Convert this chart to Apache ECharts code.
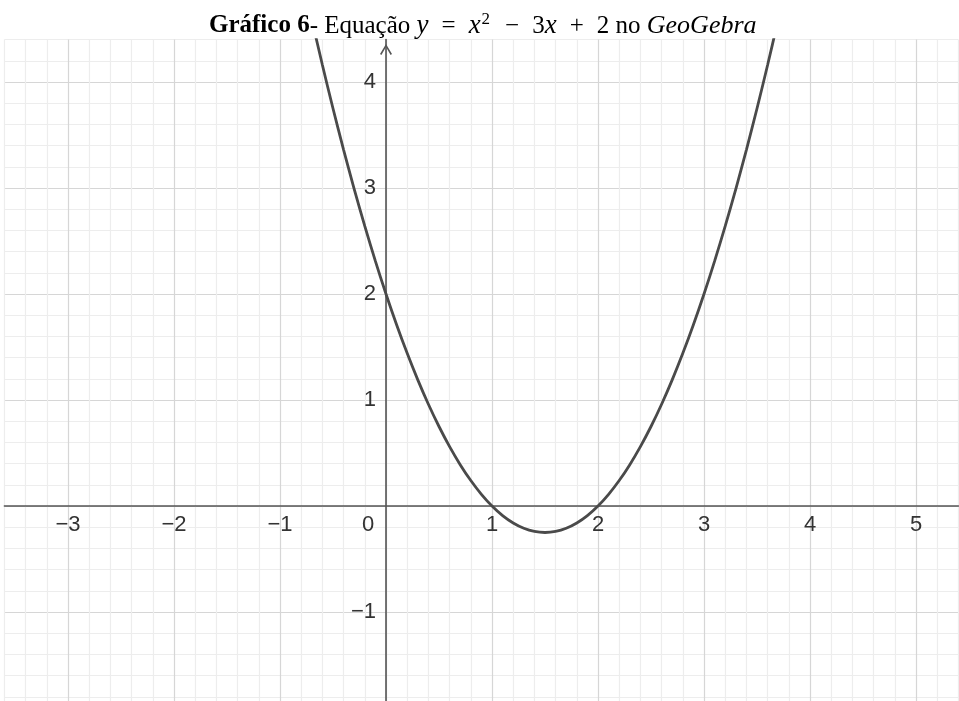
<!DOCTYPE html>
<html>
<head>
<meta charset="utf-8">
<script src="https://cdn.jsdelivr.net/npm/echarts@6/dist/echarts.min.js"></script>
<style>
html, body { margin: 0; padding: 0; background: #fff; }
#chart { width: 959px; height: 701px; }
</style>
</head>
<body>
<div id="chart"></div>
<script>
// pontos da parábola (y = x² − 3x + 2)
var curveX = [-0.7, -0.6, -0.5, -0.4, -0.3, -0.2, -0.1, 0, 0.1, 0.2, 0.3, 0.4, 0.5, 0.6, 0.7, 0.8, 0.9,
              1, 1.1, 1.2, 1.3, 1.4, 1.5, 1.6, 1.7, 1.8, 1.9, 2, 2.1, 2.2, 2.3, 2.4, 2.5, 2.6, 2.7, 2.8,
              2.9, 3, 3.1, 3.2, 3.3, 3.4, 3.5, 3.6, 3.7];
var curveY = [4.59, 4.16, 3.75, 3.36, 2.99, 2.64, 2.31, 2, 1.71, 1.44, 1.19, 0.96, 0.75, 0.56, 0.39, 0.24, 0.11,
              0, -0.09, -0.16, -0.21, -0.24, -0.25, -0.24, -0.21, -0.16, -0.09, 0, 0.11, 0.24, 0.39, 0.56, 0.75, 0.96, 1.19, 1.44,
              1.71, 2, 2.31, 2.64, 2.99, 3.36, 3.75, 4.16, 4.59];

// janela visível do GeoGebra
var xRange = [-3.6, 5.4];
var yRange = [-2, 4.4];
var gridStep = 0.2;
var unitPx = 106;

var labelFont = 'Liberation Sans';
var serif = 'Liberation Serif';

var curveData = [];
for (var i = 0; i < curveX.length; i++) {
    curveData.push([curveX[i], curveY[i]]);
}

function isWhole(v) {
    return Math.abs(v - Math.round(v)) < 1e-6;
}

function fmtNum(v) {
    var r = Math.round(v);
    return r < 0 ? '\u2212' + (-r) : String(r);
}

var minorColor = '#ededed';
var majorColor = '#d6d6d6';

var chart = echarts.init(document.getElementById('chart'), null, { renderer: 'canvas' });

var base = { fontFamily: serif, fontSize: 25, fontWeight: 'normal', color: '#000', lineHeight: 30 };
function st(extra) {
    var o = {};
    for (var k in base) o[k] = base[k];
    for (var k2 in extra) o[k2] = extra[k2];
    return o;
}

var option = {
    animation: false,
    backgroundColor: '#fff',
    title: {
        left: 209,
        top: 11,
        padding: 0,
        text: '{b|Gráfico 6}{n|- Equação }{m|y}{op|=}{m|x}{s|2}{op|−}{n|3}{m|x}{op|+}{n|2 no }{g|GeoGebra}',
        textStyle: {
            fontWeight: 'normal',
            rich: {
                b: st({ fontWeight: 'bold' }),
                n: st({}),
                m: st({ fontStyle: 'italic', fontSize: 27 }),
                g: st({ fontStyle: 'italic', fontSize: 26 }),
                op: st({ padding: [0, 13, 0, 13] }),
                s: st({ fontSize: 17, verticalAlign: 'top', lineHeight: 22, padding: [0, 2, 0, 1] })
            }
        }
    },
    grid: {
        left: 4.4,
        top: 39.6,
        width: (xRange[1] - xRange[0]) * unitPx,
        height: (yRange[1] - yRange[0]) * unitPx,
        outerBoundsMode: 'none',
        containLabel: false
    },
    xAxis: {
        type: 'value',
        position: 'bottom',
        offset: -(0 - yRange[0]) * unitPx,
        min: xRange[0],
        max: xRange[1],
        interval: gridStep,
        axisLine: { onZero: false, lineStyle: { color: '#555', width: 1.6 } },
        axisTick: { show: false },
        splitLine: {
            show: true,
            lineStyle: { color: [minorColor, minorColor, minorColor, majorColor, minorColor], width: 1.2 }
        },
        axisLabel: {
            margin: 8,
            fontFamily: labelFont,
            fontSize: 22,
            color: '#333',
            formatter: function (v) {
                if (!isWhole(v)) return '';
                if (Math.round(v) === 0) return '{z|0}';
                return fmtNum(v);
            },
            rich: {
                z: { fontFamily: labelFont, fontSize: 22, color: '#333', padding: [0, 36, 0, 0] }
            }
        }
    },
    yAxis: {
        type: 'value',
        position: 'left',
        offset: -(0 - xRange[0]) * unitPx,
        min: yRange[0],
        max: yRange[1],
        interval: gridStep,
        axisLine: {
            onZero: false,
            lineStyle: { color: '#555', width: 1.6 },
            symbol: ['none', 'path://M0,10 L6,0 L12,10 L10.6,11 L6,2.8 L1.4,11 Z'],
            symbolSize: [15, 11],
            symbolOffset: [0, -10]
        },
        axisTick: { show: false },
        splitLine: {
            show: true,
            lineStyle: { color: [majorColor, minorColor, minorColor, minorColor, minorColor], width: 1.2 }
        },
        axisLabel: {
            margin: 10,
            fontFamily: labelFont,
            fontSize: 22,
            color: '#333',
            formatter: function (v) {
                if (!isWhole(v) || Math.round(v) === 0) return '';
                return fmtNum(v);
            }
        }
    },
    series: [{
        name: 'y = x² − 3x + 2',
        type: 'line',
        data: curveData,
        smooth: 0.3,
        showSymbol: false,
        clip: true,
        lineStyle: { color: '#4a4a4a', width: 2.8 }
    }]
};

chart.setOption(option);
</script>
</body>
</html>
